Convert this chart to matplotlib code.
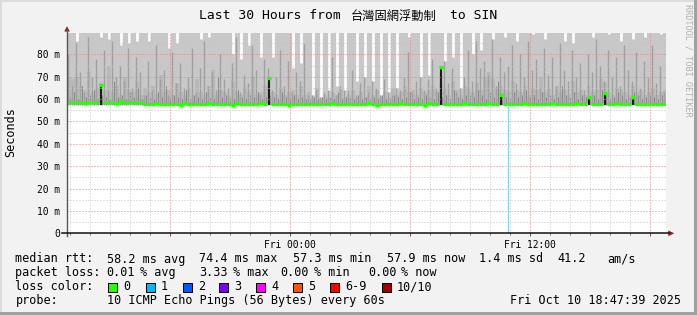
import numpy as np
import matplotlib
matplotlib.use("Agg")
import matplotlib.pyplot as plt
from matplotlib.patches import Rectangle, Polygon
from matplotlib.lines import Line2D
from matplotlib.transforms import Affine2D

plt.rcParams['lines.scale_dashes'] = False
plt.rcParams['font.family'] = ['DejaVu Sans Mono', 'Noto Sans CJK TC']

# ---------------- data (hours relative to Fri 00:00, 12-minute bins) ----------------
START_H = -11.16
STEP_H = 0.2
BASE = 57.4   # bottom of smoke band (ms)
TOP = 89.7

median_ms = [
    58.7, 58.5, 58.9, 58.6, 58.4, 58.8, 58.6, 58.5, 66.2, 58.7,
    58.9, 58.6, 58.4, 59.1, 58.7, 58.5, 58.8, 58.6, 58.9, 57.9,
    57.6, 57.8, 58.1, 57.7, 57.9, 57.6, 58.0, 57.8, 57.5, 58.2,
    57.9, 57.7, 58.0, 57.6, 57.8, 58.1, 57.7, 57.9, 57.6, 58.0,
    57.8, 57.5, 58.2, 57.9, 57.7, 58.0, 57.6, 57.8, 58.1, 57.7,
    69.3, 57.9, 57.6, 58.0, 57.8, 57.5, 57.9, 57.7, 58.0, 57.6,
    57.8, 58.0, 57.7, 57.9, 57.6, 57.8, 58.1, 57.7, 57.9, 57.6,
    57.8, 58.0, 57.7, 57.9, 57.6, 58.2, 57.8, 57.5, 57.9, 57.7,
    58.0, 57.6, 57.9, 58.3, 57.7, 57.9, 57.6, 58.0, 57.8, 57.5,
    58.1, 57.9, 57.7, 74.4, 57.8, 57.6, 58.0, 57.7, 57.9, 58.2,
    57.8, 57.6, 58.0, 57.9, 57.7, 58.1, 57.8, 57.6, 62.0, 57.9,
    57.7, 58.0, 57.8, 57.6, 58.1, 57.9, 57.7, 58.0, 57.8, 57.6,
    57.9, 58.2, 57.7, 57.9, 57.6, 58.0, 57.8, 58.1, 57.7, 57.7,
    61.0, 57.6, 58.0, 57.8, 62.8, 57.7, 57.9, 58.1, 57.6, 57.8,
    58.0, 60.8, 57.9, 57.6, 58.0, 57.8, 57.7, 57.9, 57.8, 57.9,
]

max_ms = [
    95, 95, 86, 95, 95, 95, 95, 95, 88, 95,
    87, 95, 95, 84, 95, 85, 95, 86, 95, 95,
    86, 95, 95, 95, 95, 83, 95, 85, 95, 95,
    95, 95, 95, 87, 95, 88, 95, 95, 95, 95,
    95, 80, 95, 78, 95, 84, 95, 95, 79, 95,
    95, 79, 95, 95, 95, 95, 74, 95, 76, 95,
    95, 62, 95, 61, 95, 64, 95, 66, 95, 64,
    95, 95, 68, 95, 70, 95, 68, 95, 62, 95,
    63, 95, 65, 95, 95, 88, 95, 95, 70, 95,
    71, 95, 95, 95, 77, 95, 79, 95, 65, 95,
    95, 80, 95, 82, 95, 95, 87, 95, 95, 88,
    95, 95, 86, 95, 95, 95, 89, 95, 95, 87,
    95, 95, 95, 95, 86, 95, 85, 95, 95, 95,
    95, 88, 95, 95, 95, 89, 95, 95, 86, 95,
    95, 87, 95, 95, 88, 95, 95, 95, 89, 95,
]

mid_ms = [
    70, 69, 70, 66, 64, 72, 63, 65, 67, 64,
    75, 63, 66, 62, 70, 64, 63, 68, 62, 65,
    63, 66, 62, 71, 63, 64, 62, 67, 63, 62,
    65, 62, 69, 63, 62, 66, 73, 62, 64, 63,
    62, 68, 63, 62, 65, 63, 70, 62, 63, 66,
    67, 63, 62, 65, 62, 63, 64, 62, 66, 62,
    63, 61, 65, 60, 62, 61, 63, 62, 64, 61,
    62, 64, 61, 63, 61, 66, 62, 64, 61, 63,
    61, 65, 62, 63, 66, 63, 64, 62, 65, 63,
    64, 66, 63, 67, 65, 62, 68, 64, 62, 66,
    65, 63, 67, 64, 70, 72, 69, 65, 66, 64,
    63, 68, 64, 63, 66, 62, 65, 64, 70, 63,
    65, 62, 66, 63, 64, 62, 68, 63, 64, 62,
    66, 63, 64, 69, 67, 63, 62, 65, 64, 63,
    62, 66, 63, 64, 62, 63, 65, 62, 63, 64,
]

dark_ms = [
    80, 66, 85, 72, 63, 88, 70, 78, 66, 82,
    64, 86, 70, 75, 68, 83, 65, 79, 72, 62,
    77, 64, 84, 69, 73, 62, 81, 67, 76, 65,
    70, 83, 63, 74, 86, 66, 72, 64, 80, 69,
    65, 76, 88, 63, 71, 67, 84, 73, 62, 78,
    74, 64, 70, 82, 66, 77, 63, 72, 68, 85,
    62, 75, 64, 70, 63, 68, 79, 62, 66, 71,
    64, 73, 62, 67, 80, 63, 70, 65, 62, 69,
    66, 62, 74, 64, 70, 81, 63, 68, 72, 64,
    69, 78, 65, 72, 84, 67, 74, 63, 80, 70,
    82, 68, 86, 74, 77, 71, 88, 66, 79, 72,
    75, 84, 67, 80, 70, 86, 73, 78, 65, 83,
    71, 79, 66, 85, 73, 68, 82, 70, 76, 64,
    80, 72, 87, 75, 68, 82, 70, 79, 66, 84,
    73, 68, 81, 65, 77, 70, 84, 67, 75, 63,
]

darker_ms = [
    61, 63, 60, 66, 61, 62, 64, 60, 62, 61,
    60, 68, 61, 62, 60, 63, 61, 65, 60, 62,
    61, 60, 63, 61, 66, 60, 62, 61, 60, 64,
    60, 62, 61, 60, 63, 61, 60, 70, 61, 62,
    61, 60, 64, 61, 60, 62, 61, 63, 60, 61,
    62, 61, 60, 63, 61, 60, 62, 60, 61, 60,
    60, 61, 60, 62, 60, 61, 60, 63, 60, 61,
    61, 60, 62, 60, 61, 60, 61, 60, 62, 60,
    60, 62, 61, 60, 61, 63, 60, 61, 60, 62,
    61, 60, 63, 61, 62, 60, 64, 61, 60, 62,
    62, 61, 64, 62, 60, 63, 61, 68, 62, 61,
    60, 63, 61, 62, 64, 61, 62, 60, 63, 61,
    62, 60, 61, 66, 62, 61, 63, 60, 62, 61,
    61, 62, 60, 64, 62, 60, 61, 63, 62, 60,
    61, 63, 62, 60, 61, 62, 61, 60, 62, 61,
]

blue_line_h = 10.87
blue_line_top = 57.0

y_ticks = [0, 10, 20, 30, 40, 50, 60, 70, 80]
y_tick_labels = ['0', '10 m', '20 m', '30 m', '40 m', '50 m', '60 m', '70 m', '80 m']
x_major = [-6, 0, 6, 12, 18]
x_major_labels = ['', 'Fri 00:00', '', 'Fri 12:00', '']

legend_row1 = [(16, 'median rtt:'), (107.3, '58.2 ms avg'), (200, '74.4 ms max'),
               (293.3, '57.3 ms min'), (387.7, '57.9 ms now'), (480, '1.4 ms sd'),
               (558.3, '41.2'), (607.7, 'am/s')]
loss_values = [(107.3, '0.01', '% avg'), (200.0, '3.33', '% max'),
               (281.0, '0.00', '% min'), (368.5, '0.00', '% now')]
loss_labels = ['0', '1', '2', '3', '4', '5', '6-9', '10/10']
loss_colors = ['#26ff00', '#00b8ff', '#0059ff', '#7e00ff', '#ff00ff', '#ff5500', '#ff0000', '#a10000']
loss_box_x = [108.3, 145.7, 182.7, 219.3, 256.0, 293.3, 330.0, 381.7]

# ---------------- figure ----------------
W, H = 697, 315
fig = plt.figure(figsize=(W / 100, H / 100), dpi=100)
fig.patch.set_facecolor('#f2f2f2')
PX = Affine2D().scale(1 / W, -1 / H).translate(0, 1) + fig.transFigure

L, R, T, B = 67, 666, 32.7, 233.3
ax = fig.add_axes([L / W, 1 - B / H, (R - L) / W, (B - T) / H])
ax.set_facecolor('white')
ax.set_xlim(START_H, START_H + (R - L) / 20.0)
ax.set_ylim(0, TOP)
for s in ax.spines.values():
    s.set_visible(False)

N = len(median_ms)
edges = START_H + STEP_H * np.arange(N)
med = np.array(median_ms)
mx = np.array(max_ms, dtype=float)
mid = np.minimum(np.array(mid_ms, dtype=float), mx)
dk = np.minimum(np.array(dark_ms, dtype=float), mx)
dkr = np.minimum(np.array(darker_ms, dtype=float), mx)

# light smoke up to the top, thin white gaps where the max ping stays lower
ax.bar(edges, TOP + 5 - BASE, bottom=BASE, width=STEP_H, align='edge', color='#c8c8c8', lw=0, zorder=1)
gap = mx < TOP
ax.vlines(edges[gap] + 0.1, mx[gap], TOP + 5, colors='white', lw=1.9, zorder=1.05)
ax.bar(edges, mid - BASE, bottom=BASE, width=STEP_H, align='edge', color='#b8b8b8', lw=0, zorder=1.1)
ax.vlines(edges + 0.05, BASE, dk, colors='#a0a0a0', lw=1.0, zorder=1.2)
ax.vlines(edges + 0.15, BASE, dkr, colors='#8a8a8a', lw=0.75, zorder=1.3)
sp = med > 59.5
ax.vlines(edges[sp] + 0.1, BASE, med[sp], colors='#1c1c1c', lw=1.5, zorder=1.4)

# grid
dot = (0, (0.72, 1.44))
for v in range(5, 90, 10):
    ax.axhline(v, color='#c4c4c4', lw=0.72, ls=dot, zorder=2)
for v in range(10, 90, 10):
    ax.axhline(v, color='#e08585', lw=0.72, ls=dot, zorder=2.1)
for h in range(-11, 19):
    if h % 6 != 0:
        ax.axvline(h, color='#c4c4c4', lw=0.72, ls=dot, zorder=2)
for h in x_major:
    ax.axvline(h, color='#e08585', lw=0.72, ls=dot, zorder=2.1)

ax.vlines([blue_line_h], 0, blue_line_top, colors='#8fd3ef', lw=1.0, zorder=2.2)

# median line
ax.hlines(med, edges, edges + STEP_H, colors='#26ff00', lw=2.4, zorder=3)

# ticks
ax.set_yticks(y_ticks, y_tick_labels)
ax.tick_params(axis='y', length=0, pad=5.0, labelsize=6.9, colors='#000000')
ax.set_xticks(x_major, x_major_labels)
ax.set_xticks(range(-11, 19), minor=True)
ax.tick_params(axis='x', which='major', length=2.5, width=0.72, direction='out', pad=2.5,
               labelsize=6.9, color='#555555')
ax.tick_params(axis='x', which='minor', length=1.6, width=0.72, direction='out', color='#777777')

# axis lines and arrows
fig.add_artist(Line2D([67, 67], [236, 29], transform=PX, color='#555555', lw=1.0))
fig.add_artist(Line2D([62, 669], [B, B], transform=PX, color='#111111', lw=1.1))
fig.add_artist(Polygon([[64.2, 31.5], [69.8, 31.5], [67, 26.3]], closed=True, transform=PX,
                       facecolor='#8b1a1a', edgecolor='none'))
fig.add_artist(Polygon([[668.3, 230.5], [668.3, 236.1], [674.2, 233.3]], closed=True, transform=PX,
                       facecolor='#8b1a1a', edgecolor='none'))

# title
fig.text(198.6, 19, 'Last 30 Hours from', transform=PX, fontsize=9.4, family='DejaVu Sans Mono',
         ha='left', va='baseline')
fig.text(351.0, 19.5, '台灣固網浮動制', transform=PX, fontsize=8.8, family='Noto Sans CJK TC',
         ha='left', va='baseline')
fig.text(450.2, 19, 'to SIN', transform=PX, fontsize=9.4, family='DejaVu Sans Mono',
         ha='left', va='baseline')

fig.text(11, 132, 'Seconds', transform=PX, fontsize=8.5, rotation=90, ha='center', va='center')
fig.text(688, 4, 'RRDTOOL / TOBI OETIKER', transform=PX, fontsize=6.1, rotation=270,
         ha='center', va='top', color='#b0b0b0')

LEG_FS = 8.5
for x, t in legend_row1:
    fig.text(x - 0.6, 262.5, t, transform=PX, fontsize=LEG_FS, ha='left', va='baseline')
fig.text(16 - 0.6, 276.3, 'packet loss:', transform=PX, fontsize=LEG_FS, ha='left', va='baseline')
for x, num, word in loss_values:
    fig.text(x - 0.6, 276.3, num, transform=PX, fontsize=LEG_FS, ha='left', va='baseline')
    fig.text(x + 33.4 - 0.6, 276.3, word, transform=PX, fontsize=LEG_FS, ha='left', va='baseline')
fig.text(16 - 0.6, 290.1, 'loss color:', transform=PX, fontsize=LEG_FS, ha='left', va='baseline')
for x, lab, c in zip(loss_box_x, loss_labels, loss_colors):
    fig.add_artist(Rectangle((x, 282.8), 8.8, 8.8, transform=PX, facecolor=c,
                             edgecolor='#000000', lw=0.72))
    fig.text(x + 15.3, 290.1, lab, transform=PX, fontsize=LEG_FS, ha='left', va='baseline')
fig.text(16 - 0.6, 303.9, 'probe:', transform=PX, fontsize=LEG_FS, ha='left', va='baseline')
fig.text(107.3 - 0.6, 303.9, '10 ICMP Echo Pings (56 Bytes) every 60s', transform=PX,
         fontsize=LEG_FS, ha='left', va='baseline')
fig.text(680.5, 303.9, 'Fri Oct 10 18:47:39 2025', transform=PX, fontsize=LEG_FS,
         ha='right', va='baseline')

# frame
fig.add_artist(Rectangle((0, 0), 697, 2, transform=PX, facecolor='#dcdcdc', edgecolor='none'))
fig.add_artist(Rectangle((0, 0), 2, 315, transform=PX, facecolor='#dcdcdc', edgecolor='none'))
fig.add_artist(Rectangle((694, 0), 3, 315, transform=PX, facecolor='#a0a0a0', edgecolor='none'))
fig.add_artist(Rectangle((0, 312), 697, 3, transform=PX, facecolor='#a0a0a0', edgecolor='none'))

fig.savefig('out.png', dpi=100, facecolor=fig.get_facecolor())
